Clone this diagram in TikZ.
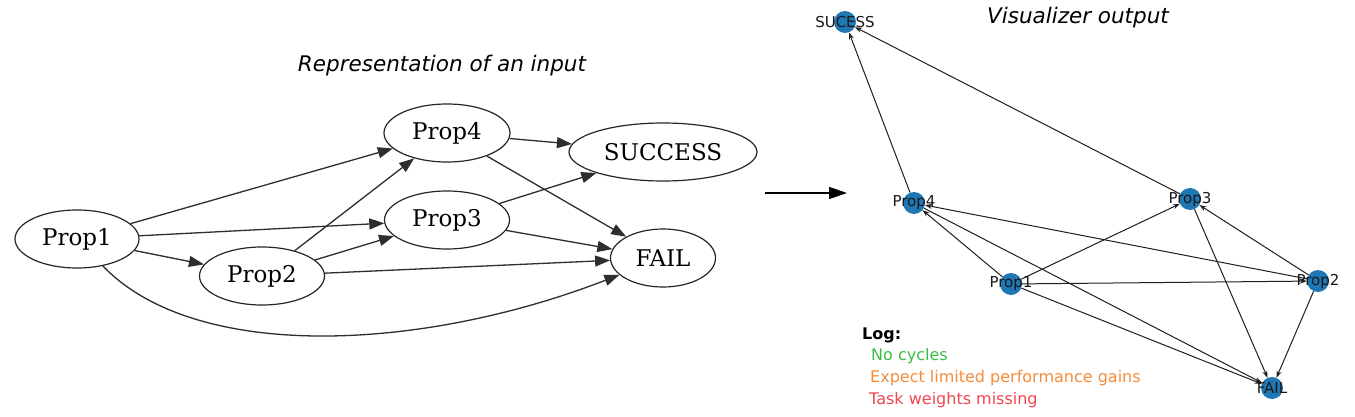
\documentclass[tikz,border=0pt]{standalone}
\usepackage{fontspec}
\setmainfont{DejaVu Sans}
\newfontfamily\gvfont{DejaVu Serif}
\usetikzlibrary{shapes.geometric,arrows.meta}
\definecolor{nxblue}{HTML}{1F77B4}
\definecolor{logGreen}{RGB}{60,190,70}
\definecolor{logOrange}{RGB}{245,140,60}
\definecolor{logRed}{RGB}{240,70,80}
\begin{document}
\begin{tikzpicture}[x=1pt,y=-1pt,
  gv/.style={draw=black!85, ellipse, minimum height=58pt, inner sep=0pt, line width=1.2pt,
    font=\gvfont\fontsize{23}{26}\selectfont},
  gvedge/.style={draw=black!82, line width=1.3pt, -{Triangle[length=15pt,width=11pt]}},
  nx/.style={circle, fill=nxblue, minimum size=22pt, inner sep=0pt},
  nxlab/.style={font=\fontsize{15}{17}\selectfont, text=black!90, inner sep=0pt},
  nxedge/.style={draw=black!88, line width=1pt, -{Stealth[length=7pt,width=5pt]}},
  ttl/.style={font=\itshape\fontsize{21.5}{24}\selectfont},
  logtxt/.style={anchor=west, inner sep=0pt, font=\fontsize{16}{18}\selectfont}]
\useasboundingbox (0,0) rectangle (1355,417);
\fill[white] (0,0) rectangle (1355,417);

% ---- left: graphviz representation ----
\node[ttl] (t1) at (442,66) {Representation of an input};
\node[gv, minimum width=124pt] (p1) at (77,239) {Prop1};
\node[gv, minimum width=125pt] (p2) at (262,276) {Prop2};
\node[gv, minimum width=125pt] (p3) at (447,220) {Prop3};
\node[gv, minimum width=126pt] (p4) at (447,133) {Prop4};
\node[gv, minimum width=188pt] (s) at (663,152) {SUCCESS};
\node[gv, minimum width=105pt] (f) at (663,258) {FAIL};

\draw[gvedge] (p1) -- (p4);
\draw[gvedge] (p1) -- (p3);
\draw[gvedge] (p1) -- (p2);
\draw[gvedge] (p2) -- (p4);
\draw[gvedge] (p2) -- (p3);
\draw[gvedge] (p2) -- (f);
\draw[gvedge] (p3) -- (s);
\draw[gvedge] (p3) -- (f);
\draw[gvedge] (p4) -- (s);
\draw[gvedge] (p4) -- (f);
\draw[gvedge] (p1) .. controls (195,362) and (420,352) .. (f);

% ---- middle arrow ----
\coordinate (a1) at (765,193);
\coordinate (a2) at (847,193);
\draw[line width=1.3pt, black, -{Triangle[length=18pt,width=12pt]}] (a1) -- (a2);

% ---- right: visualizer output ----
\node[ttl] (t2) at (1078,18) {Visualizer output};
\node[nx] (rs) at (845,22) {};
\node[nx] (r4) at (914,203) {};
\node[nx] (r3) at (1190,199) {};
\node[nx] (r1) at (1011,284) {};
\node[nx] (r2) at (1318,281) {};
\node[nx] (rf) at (1272,388) {};

\draw[nxedge] (r4) -- (rs);
\draw[nxedge] (r3) -- (rs);
\draw[nxedge] (r1) -- (r4);
\draw[nxedge] (r1) -- (r3);
\draw[nxedge] (r1) -- (r2);
\draw[nxedge] (r1) -- (rf);
\draw[nxedge] (r2) -- (r4);
\draw[nxedge] (r2) -- (r3);
\draw[nxedge] (r2) -- (rf);
\draw[nxedge] (r3) -- (rf);
\draw[nxedge] (r4) -- (rf);

\node[nxlab] (rsl) at (rs) {SUCESS};
\node[nxlab] (r4l) at (r4) {Prop4};
\node[nxlab] (r3l) at (r3) {Prop3};
\node[nxlab] (r1l) at (r1) {Prop1};
\node[nxlab] (r2l) at (r2) {Prop2};
\node[nxlab] (rfl) at (rf) {FAIL};

% ---- log ----
\node[logtxt, font=\bfseries\fontsize{16}{18}\selectfont] (log) at (862,335) {Log:};
\node[logtxt, text=logGreen] (l1) at (871,356) {No cycles};
\node[logtxt, text=logOrange] (l2) at (870,378) {Expect limited performance gains};
\node[logtxt, text=logRed] (l3) at (869,400) {Task weights missing};
\end{tikzpicture}
\end{document}
